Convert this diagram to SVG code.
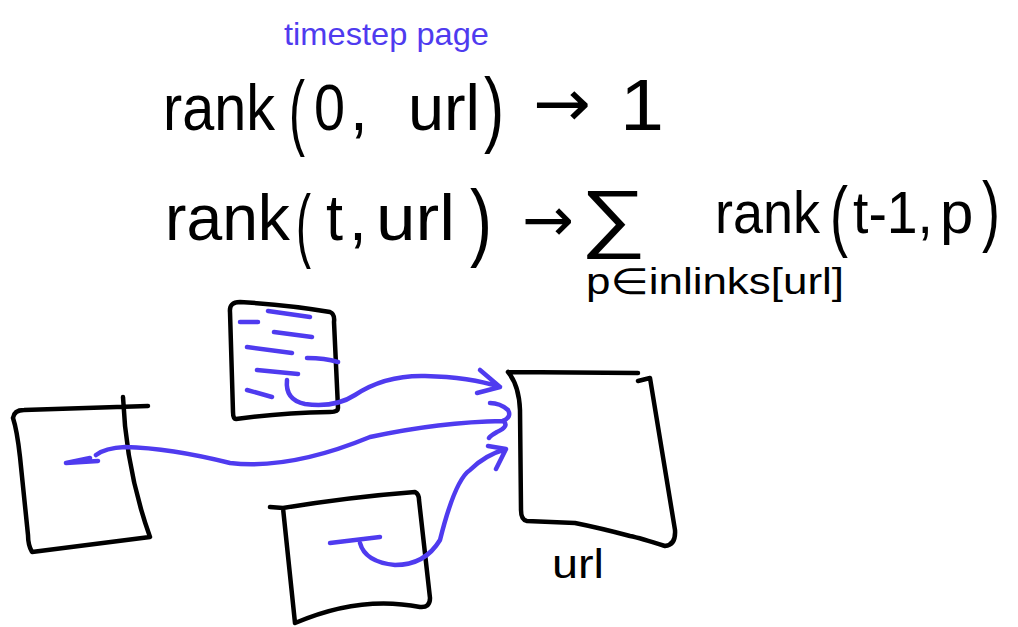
<svg xmlns="http://www.w3.org/2000/svg" width="1018" height="627" viewBox="0 0 1018 627">
<style>
.k{font-family:"Liberation Sans","DejaVu Sans",sans-serif;fill:#000}
.a{font-family:"DejaVu Sans",sans-serif;fill:#000}
.b{font-family:"Liberation Sans","DejaVu Sans",sans-serif;fill:#4f3bef}
.box{fill:none;stroke:#000;stroke-width:4.5;stroke-linecap:round;stroke-linejoin:round}
.bl{fill:none;stroke:#4f3bef;stroke-width:4.5;stroke-linecap:round;stroke-linejoin:round}
</style>
<rect width="1018" height="627" fill="#fff"/>
<g id="formula">
<text class="b" x="284" y="45" font-size="32" textLength="205" lengthAdjust="spacingAndGlyphs">timestep page</text>
<text class="k" x="163" y="130" font-size="64" textLength="112" lengthAdjust="spacingAndGlyphs">rank</text>
<text class="k" x="289" y="140" font-size="84" textLength="16" lengthAdjust="spacingAndGlyphs">(</text>
<text class="k" x="314" y="130" font-size="64" textLength="31" lengthAdjust="spacingAndGlyphs">0</text>
<text class="k" x="350" y="130" font-size="64">,</text>
<text class="k" x="408" y="130" font-size="64" textLength="72" lengthAdjust="spacingAndGlyphs">url</text>
<text class="k" x="484" y="137" font-size="84" textLength="20" lengthAdjust="spacingAndGlyphs">)</text>
<text class="a" x="533" y="126" font-size="66" textLength="58" lengthAdjust="spacingAndGlyphs">→</text>
<text class="k" x="620" y="130" font-size="72" textLength="44" lengthAdjust="spacingAndGlyphs">1</text>
<text class="k" x="165" y="240" font-size="64" textLength="125" lengthAdjust="spacingAndGlyphs">rank</text>
<text class="k" x="296" y="252" font-size="82" textLength="15" lengthAdjust="spacingAndGlyphs">(</text>
<text class="k" x="326" y="240" font-size="64" textLength="17" lengthAdjust="spacingAndGlyphs">t</text>
<text class="k" x="349" y="240" font-size="64">,</text>
<text class="k" x="376" y="240" font-size="64" textLength="79" lengthAdjust="spacingAndGlyphs">url</text>
<text class="k" x="470" y="250" font-size="86" textLength="22" lengthAdjust="spacingAndGlyphs">)</text>
<text class="a" x="522" y="241" font-size="62" textLength="52" lengthAdjust="spacingAndGlyphs">→</text>
<text class="k" x="580" y="243" font-size="76" textLength="66" lengthAdjust="spacingAndGlyphs">∑</text>
<text class="k" x="715" y="233" font-size="60" textLength="105" lengthAdjust="spacingAndGlyphs">rank</text>
<text class="k" x="830" y="242" font-size="78" textLength="18" lengthAdjust="spacingAndGlyphs">(</text>
<text class="k" x="853" y="233" font-size="60" textLength="80" lengthAdjust="spacingAndGlyphs">t-1,</text>
<text class="k" x="940" y="233" font-size="60">p</text>
<text class="k" x="982" y="237" font-size="78" textLength="18" lengthAdjust="spacingAndGlyphs">)</text>
<text class="k" x="586" y="294" font-size="36" textLength="258" lengthAdjust="spacingAndGlyphs">p∈inlinks[url]</text>
</g>
<g id="page-top">
<path class="box" d="M230,312 Q229,302 240,302 Q290,305 330,312 Q335,314 334,322 L338,408 Q338,412 330,412 Q280,413 236,419 Q233,419 233,412 L230,312"/>
<path class="bl" d="M240,322 L258,322 M268,311 L310,317 M274,332 L312,337 M247,347 L292,353 M307,358 Q325,358 338,362 M257,370 L298,374 M247,390 L272,397"/>
</g>
<g id="page-left">
<path class="box" d="M13,418 Q14,410 24,410 L148,406 M123,397 Q126,470 150,537 L32,552 Q28,545 28,535 L20,457 Q17,430 13,418"/>
</g>
<g id="page-bottom">
<path class="box" d="M270,507 L283,508 Q350,497 415,492 Q419,494 419,500 L430,598 Q430,608 420,607 Q360,595 295,623 L283,508"/>
<path class="bl" d="M330,543 L380,537" stroke-width="6"/>
</g>
<g id="page-url">
<path class="box" d="M508,372 L638,373 M638,381 L650,378 Q662,450 675,530 Q676,545 665,546 Q640,538 630,536 Q600,528 575,523 L527,521 Q521,520 521,510 L520,410 Q519,385 508,372"/>
<text class="k" x="552" y="578" font-size="40" textLength="52" lengthAdjust="spacingAndGlyphs">url</text>
</g>
<g id="connectors">
<path class="bl" d="M287,380 Q285,400 305,404 Q335,408 355,395 Q385,375 425,376 Q470,377 500,387 M480,370 L500,387 L477,393"/>
<path class="bl" d="M66,463 L98,461 M96,455 Q105,448 125,447 Q170,448 230,463 Q290,470 370,437 Q440,422 503,421 Q512,417 508,410 Q500,403 490,403 M503,421 Q510,426 497,432 Q490,436 489,438 M66,463 L90,458"/>
<path class="bl" d="M360,543 Q365,562 395,565 Q425,565 440,540 Q455,480 470,470 Q485,455 506,449 M488,446 L506,449 L496,469"/>
</g>
</svg>
